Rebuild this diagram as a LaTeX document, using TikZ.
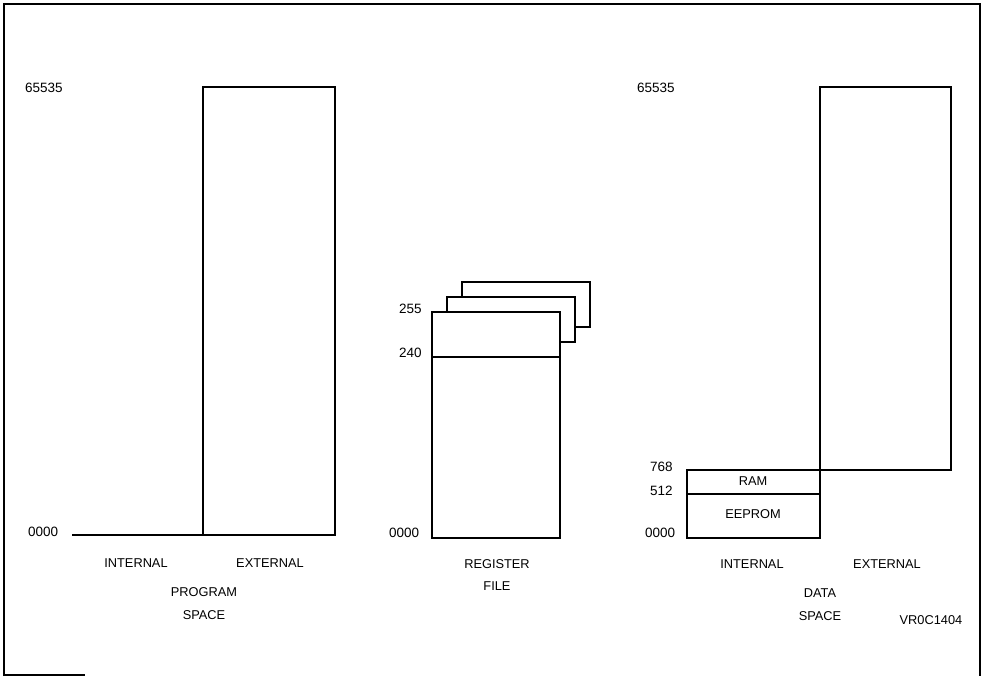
\documentclass[tikz,border=0pt]{standalone}
\usepackage{fontspec}
\setmainfont{Liberation Sans}
\begin{document}
\begin{tikzpicture}[x=1pt,y=-1pt,
  box/.style={draw=black,line width=1.3pt},
  lbl/.style={font=\fontsize{12.8}{14}\selectfont,inner sep=0pt},
  num/.style={font=\fontsize{13.5}{15}\selectfont,inner sep=0pt},
  frame/.style={draw=black,line width=1.6pt}]
\useasboundingbox (0,0) rectangle (983,677);
% frame
\draw[frame] (4,676) -- (4,4) -- (980,4) -- (980,676);
\draw[frame] (4,675) -- (85,675);
% ---- program space
\draw[box] (203,87) rectangle (335,535);
\coordinate (pin) at (72,535);
\coordinate (pex) at (203,535);
\draw[box] (pin) -- (pex);
\node[num,anchor=west] (p65535) at (25,88) {65535};
\node[num,anchor=west] (p0000) at (28,532) {0000};
\node[lbl] (pint) at (136,563) {INTERNAL};
\node[lbl] (pext) at (270,563) {EXTERNAL};
\node[lbl] (pprog) at (204,592) {PROGRAM};
\node[lbl] (pspace) at (204,615) {SPACE};
% ---- register file
\draw[box] (575,327) -- (590,327) -- (590,282) -- (462,282) -- (462,297);
\draw[box] (560,342) -- (575,342) -- (575,297) -- (447,297) -- (447,312);
\draw[box] (432,312) rectangle (560,538);
\draw[box] (432,357) -- (560,357);
\node[num,anchor=west] (r255) at (399,309) {255};
\node[num,anchor=west] (r240) at (399,353) {240};
\node[num,anchor=west] (r0000) at (389,533) {0000};
\node[lbl] (rreg) at (497,564) {REGISTER};
\node[lbl] (rfile) at (497,586) {FILE};
% ---- data space
\draw[box] (820,470) -- (820,87) -- (951,87) -- (951,470) -- (820,470);
\draw[box] (687,470) rectangle (820,538);
\draw[box] (687,494) -- (820,494);
\node[lbl] (ram) at (753,481) {RAM};
\node[lbl] (eeprom) at (753,514) {EEPROM};
\node[num,anchor=west] (d65535) at (637,88) {65535};
\node[num,anchor=west] (d768) at (650,467) {768};
\node[num,anchor=west] (d512) at (650,491) {512};
\node[num,anchor=west] (d0000) at (645,533) {0000};
\node[lbl] (dint) at (752,564) {INTERNAL};
\node[lbl] (dext) at (887,564) {EXTERNAL};
\node[lbl] (ddata) at (820,593) {DATA};
\node[lbl] (dspace) at (820,616) {SPACE};
\node[lbl] (vr) at (931,620) {VR0C1404};
\end{tikzpicture}
\end{document}
